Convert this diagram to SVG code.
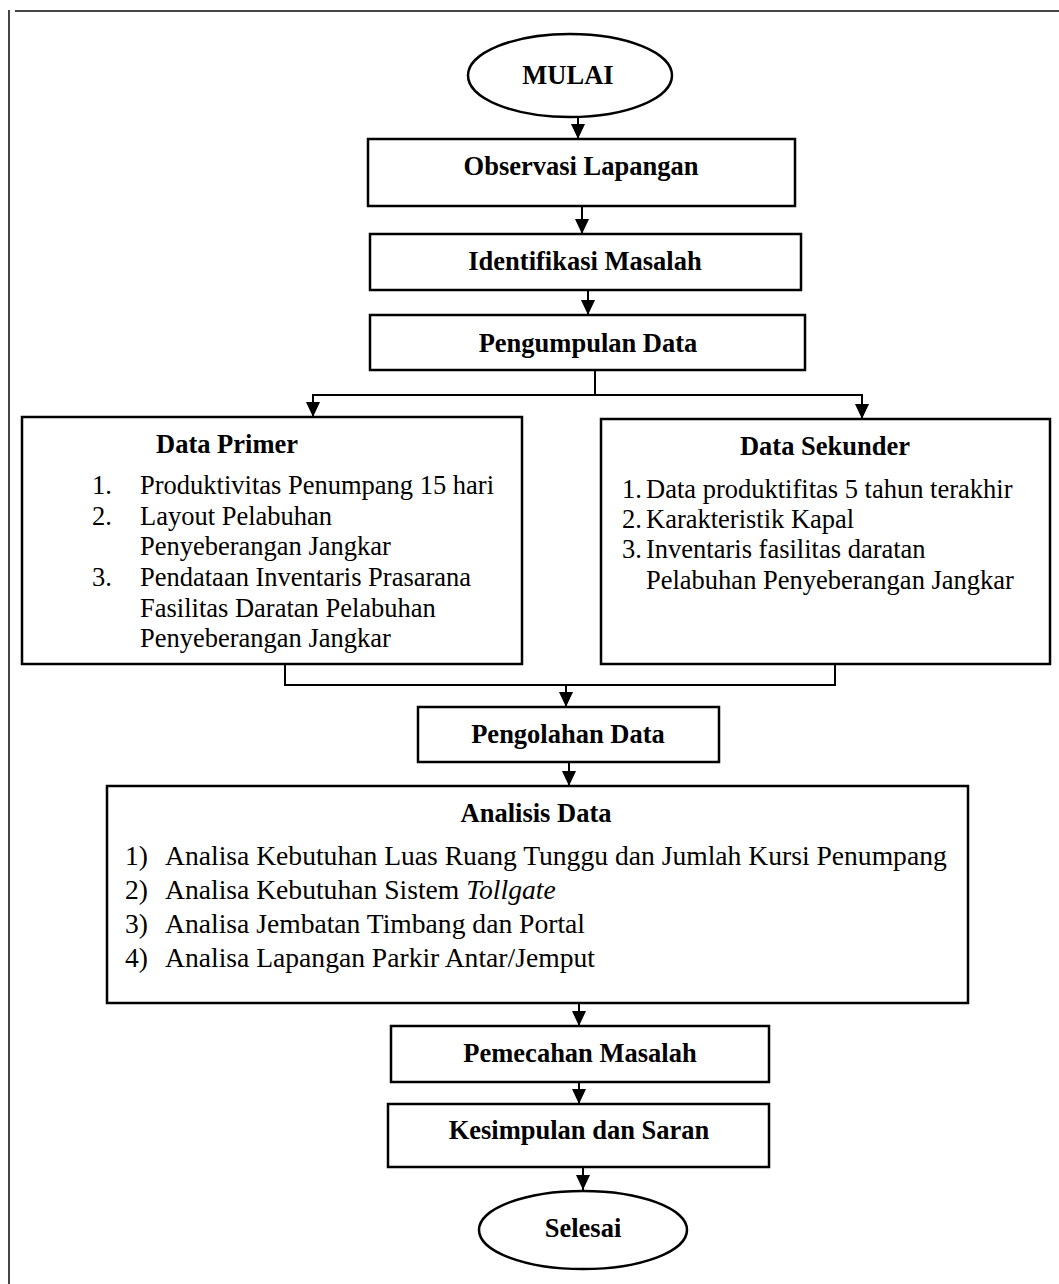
<svg xmlns="http://www.w3.org/2000/svg" width="1059" height="1284" viewBox="0 0 1059 1284">
<style>
.frame{stroke:#444;stroke-width:2;fill:none}
.box{fill:#fff;stroke:#000;stroke-width:2.5}
.ln{stroke:#000;stroke-width:2;fill:none}
.t{font-family:"Liberation Serif","Times New Roman",serif;font-size:26.5px;fill:#000}
.a{font-size:27.6px}
.b{font-weight:bold}
.c{text-anchor:middle}
</style>
<defs>
<marker id="ah" markerUnits="userSpaceOnUse" markerWidth="14" markerHeight="16" refX="7" refY="15" orient="0" viewBox="0 0 14 16">
<path d="M0,0 L14,0 L7,15 Z" fill="#000"/>
</marker>
</defs>
<g id="frame">
<line class="frame" x1="9" y1="10" x2="9" y2="1284"/>
<line class="frame" x1="15" y1="11" x2="1059" y2="11"/>
</g>
<g id="connectors">
<line class="ln" x1="578" y1="117" x2="578" y2="139" marker-end="url(#ah)"/>
<line class="ln" x1="582" y1="206" x2="582" y2="234" marker-end="url(#ah)"/>
<line class="ln" x1="588" y1="290" x2="588" y2="315" marker-end="url(#ah)"/>
<polyline class="ln" points="595,370 595,395"/>
<polyline class="ln" points="313,417 313,395 862,395 862,419"/>
<line class="ln" x1="313" y1="400" x2="313" y2="417" marker-end="url(#ah)"/>
<line class="ln" x1="862" y1="400" x2="862" y2="419" marker-end="url(#ah)"/>
<polyline class="ln" points="285,664 285,685 835,685 835,664"/>
<line class="ln" x1="566" y1="685" x2="566" y2="707" marker-end="url(#ah)"/>
<line class="ln" x1="569" y1="762" x2="569" y2="786" marker-end="url(#ah)"/>
<line class="ln" x1="579" y1="1003" x2="579" y2="1026" marker-end="url(#ah)"/>
<line class="ln" x1="579" y1="1082" x2="579" y2="1104" marker-end="url(#ah)"/>
<line class="ln" x1="583" y1="1167" x2="583" y2="1190" marker-end="url(#ah)"/>
</g>
<g id="mulai">
<ellipse class="box" cx="570" cy="75.5" rx="102" ry="41.5"/>
<text class="t b c" x="568" y="84">MULAI</text>
</g>
<g id="observasi">
<rect class="box" x="368" y="139" width="427" height="67"/>
<text class="t b c" x="581" y="175">Observasi Lapangan</text>
</g>
<g id="identifikasi">
<rect class="box" x="370" y="234" width="431" height="56"/>
<text class="t b c" x="585" y="270">Identifikasi Masalah</text>
</g>
<g id="pengumpulan">
<rect class="box" x="370" y="315" width="435" height="55"/>
<text class="t b c" x="588" y="352">Pengumpulan Data</text>
</g>
<g id="data-primer">
<rect class="box" x="22" y="417" width="500" height="247"/>
<text class="t b c" x="227" y="453">Data Primer</text>
<text class="t" x="92" y="494">1.</text>
<text class="t" x="140" y="494">Produktivitas Penumpang 15 hari</text>
<text class="t" x="92" y="525">2.</text>
<text class="t" x="140" y="525">Layout Pelabuhan</text>
<text class="t" x="140" y="555">Penyeberangan Jangkar</text>
<text class="t" x="92" y="586">3.</text>
<text class="t" x="140" y="586">Pendataan Inventaris Prasarana</text>
<text class="t" x="140" y="617">Fasilitas Daratan Pelabuhan</text>
<text class="t" x="140" y="647">Penyeberangan Jangkar</text>
</g>
<g id="data-sekunder">
<rect class="box" x="601" y="419" width="449" height="245"/>
<text class="t b c" x="825" y="455">Data Sekunder</text>
<text class="t" x="622" y="498">1.</text>
<text class="t" x="646" y="498">Data produktifitas 5 tahun terakhir</text>
<text class="t" x="622" y="528">2.</text>
<text class="t" x="646" y="528">Karakteristik Kapal</text>
<text class="t" x="622" y="558">3.</text>
<text class="t" x="646" y="558">Inventaris fasilitas daratan</text>
<text class="t" x="646" y="589">Pelabuhan Penyeberangan Jangkar</text>
</g>
<g id="pengolahan">
<rect class="box" x="418" y="707" width="301" height="55"/>
<text class="t b c" x="568" y="743">Pengolahan Data</text>
</g>
<g id="analisis">
<rect class="box" x="107" y="786" width="861" height="217"/>
<text class="t b c" x="536" y="822">Analisis Data</text>
<text class="t a" x="125" y="865">1)</text>
<text class="t a" x="165" y="865">Analisa Kebutuhan Luas Ruang Tunggu dan Jumlah Kursi Penumpang</text>
<text class="t a" x="125" y="899">2)</text>
<text class="t a" x="165" y="899">Analisa Kebutuhan Sistem <tspan font-style="italic">Tollgate</tspan></text>
<text class="t a" x="125" y="933">3)</text>
<text class="t a" x="165" y="933">Analisa Jembatan Timbang dan Portal</text>
<text class="t a" x="125" y="967">4)</text>
<text class="t a" x="165" y="967">Analisa Lapangan Parkir Antar/Jemput</text>
</g>
<g id="pemecahan">
<rect class="box" x="391" y="1026" width="378" height="56"/>
<text class="t b c" x="580" y="1062">Pemecahan Masalah</text>
</g>
<g id="kesimpulan">
<rect class="box" x="388" y="1104" width="381" height="63"/>
<text class="t b c" x="579" y="1139">Kesimpulan dan Saran</text>
</g>
<g id="selesai">
<ellipse class="box" cx="583" cy="1230" rx="104" ry="39"/>
<text class="t b c" x="583" y="1237">Selesai</text>
</g>
</svg>
